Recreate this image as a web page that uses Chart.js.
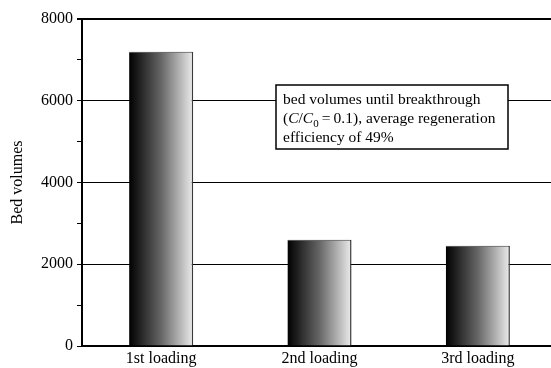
<!DOCTYPE html>
<html>
<head>
<meta charset="utf-8">
<script src="https://cdn.jsdelivr.net/npm/chart.js@4.4.1/dist/chart.umd.min.js"></script>
<style>
  html, body { margin: 0; padding: 0; background: #fff; overflow: hidden; }
  #wrap { position: absolute; left: 0; top: 0; width: 562px; height: 368px; }
</style>
</head>
<body>
<div id="wrap"><canvas id="mainChart" width="562" height="368"></canvas></div>
<script>
const categories = ['1st loading', '2nd loading', '3rd loading'];
const bedVolumes = [7200, 2600, 2450];
const yTicks = [0, 2000, 4000, 6000, 8000];

const serif = 'Liberation Serif';

function barGradient(c) {
    const chart = c.chart;
    const xs = chart.scales.x;
    if (!xs || !chart.chartArea) return '#777';
    const cx = xs.getPixelForValue(c.dataIndex);
    const half = xs.width / categories.length * 0.405 / 2;
    const g = chart.ctx.createLinearGradient(cx - half, 0, cx + half, 0);
    g.addColorStop(0, '#000000');
    g.addColorStop(0.5, '#666666');
    g.addColorStop(1, '#ececec');
    return g;
}

// text box with the breakthrough note
const noteBox = {
    id: 'noteBox',
    afterDatasetsDraw(chart) {
        const ctx = chart.ctx;
        const a = chart.chartArea;
        const x = a.left + 194, y = a.top + 66, w = 232, h = 64;
        ctx.save();
        ctx.fillStyle = '#fff';
        ctx.fillRect(x, y, w, h);
        ctx.strokeStyle = '#000';
        ctx.lineWidth = 1.5;
        ctx.strokeRect(x, y, w, h);
        ctx.fillStyle = '#000';
        ctx.textBaseline = 'alphabetic';
        const tx = x + 7;
        const norm = '15.5px "' + serif + '"';
        const ital = 'italic 15.5px "' + serif + '"';
        const sub = '11px "' + serif + '"';
        ctx.font = norm;
        ctx.fillText('bed volumes until breakthrough', tx, y + 19);
        // second line with italic C and subscript 0
        let px = tx;
        const parts = [
            ['(', norm, 0], ['C', ital, 0], ['/', norm, 0], ['C', ital, 0],
            ['0', sub, 4], ['\u2009=\u20090.1), average regeneration', norm, 0]
        ];
        parts.forEach(p => {
            ctx.font = p[1];
            ctx.fillText(p[0], px, y + 38 + p[2]);
            px += ctx.measureText(p[0]).width;
        });
        ctx.font = norm;
        ctx.fillText('efficiency of 49%', tx, y + 57);
        ctx.restore();
    }
};

function initCharts() {
    const ctx = document.getElementById('mainChart');
    if (!ctx) return;

    new Chart(ctx, {
        type: 'bar',
        data: {
            labels: categories,
            datasets: [{
                label: 'Bed volumes',
                data: bedVolumes,
                backgroundColor: barGradient,
                borderColor: '#3a3a3a',
                borderWidth: { top: 1, right: 1.5, left: 0, bottom: 0 },
                borderSkipped: false,
                categoryPercentage: 1,
                barPercentage: 0.405
            }]
        },
        options: {
            responsive: false,
            animation: false,
            layout: { padding: { top: 19, right: 5, left: 0, bottom: 0 } },
            plugins: {
                legend: { display: false },
                tooltip: { enabled: false }
            },
            scales: {
                x: {
                    grid: { display: false, drawTicks: false, tickLength: 0 },
                    border: { color: '#000', width: 2 },
                    ticks: {
                        color: '#000',
                        font: { family: serif, size: 16 },
                        padding: 3
                    },
                    afterFit: s => { s.height = 22; }
                },
                y: {
                    min: 0,
                    max: 8000,
                    border: { color: '#000', width: 2 },
                    grid: {
                        color: c => (c.tick && c.tick.value % 2000 === 0 && c.tick.value > 0) ? '#000' : 'rgba(0,0,0,0)',
                        lineWidth: c => (c.tick && c.tick.value === 8000) ? 2 : 1,
                        tickColor: '#000',
                        tickLength: 5,
                        drawTicks: true
                    },
                    ticks: {
                        stepSize: 500,
                        color: '#000',
                        padding: 4,
                        font: { family: serif, size: 16 },
                        callback: v => yTicks.includes(v) ? String(v) : ''
                    },
                    title: {
                        display: true,
                        text: 'Bed volumes',
                        color: '#000',
                        font: { family: serif, size: 16 },
                        padding: { top: 8, bottom: 4 }
                    },
                    afterFit: s => { s.width = 82; }
                }
            }
        },
        plugins: [noteBox]
    });
}

initCharts();
</script>
</body>
</html>
